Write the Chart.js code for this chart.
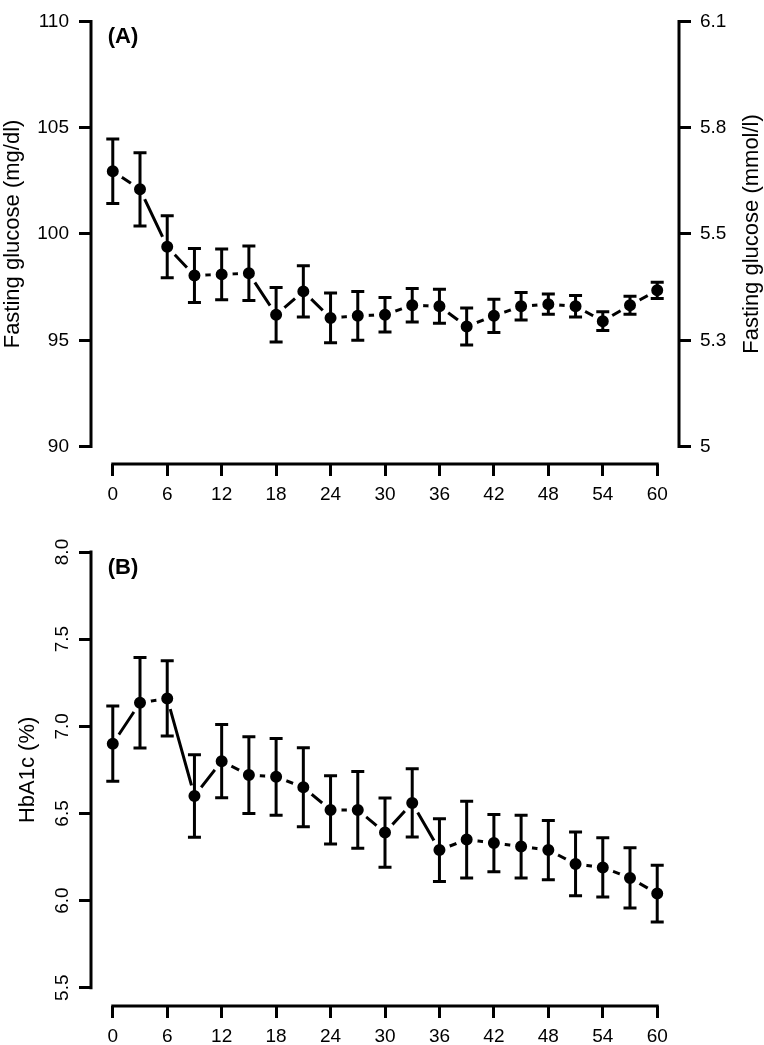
<!DOCTYPE html>
<html>
<head>
<meta charset="utf-8">
<script src="https://cdn.jsdelivr.net/npm/chart.js@4.4.1/dist/chart.umd.min.js"></script>
<style>
  html, body { margin: 0; padding: 0; background: #fff; }
  #wrap { position: relative; width: 764px; height: 1045px; }
  canvas { position: absolute; left: 0; }
  #glucoseChart { top: 0; }
  #hba1cChart { top: 500px; }
</style>
</head>
<body>
<div id="wrap">
  <canvas id="glucoseChart" width="764" height="500"></canvas>
  <canvas id="hba1cChart" width="764" height="545"></canvas>
</div>
<script>
const months = [0, 3, 6, 9, 12, 15, 18, 21, 24, 27, 30, 33, 36, 39, 42, 45, 48, 51, 54, 57, 60];
const monthTicks = [0, 6, 12, 18, 24, 30, 36, 42, 48, 54, 60];

// (A) fasting glucose, mg/dl, mean and error
const glucoseMean = [102.95, 102.1, 99.4, 98.05, 98.1, 98.15, 96.2, 97.3, 96.05, 96.15, 96.2,
  96.65, 96.6, 95.65, 96.15, 96.6, 96.7, 96.6, 95.9, 96.65, 97.35];
const glucoseErr = [1.52, 1.72, 1.46, 1.27, 1.19, 1.28, 1.28, 1.21, 1.17, 1.15, 0.81,
  0.79, 0.8, 0.87, 0.78, 0.65, 0.48, 0.51, 0.44, 0.42, 0.38];
const glucoseTicks = [90, 95, 100, 105, 110];
const glucoseMmolLabels = ["5", "5.3", "5.5", "5.8", "6.1"];

// (B) HbA1c, %, mean and error
const hba1cMean = [6.90, 7.135, 7.16, 6.60, 6.80, 6.72, 6.71, 6.65, 6.52, 6.52, 6.39,
  6.56, 6.29, 6.35, 6.33, 6.31, 6.29, 6.21, 6.19, 6.13, 6.04];
const hba1cErr = [0.216, 0.26, 0.216, 0.237, 0.21, 0.22, 0.22, 0.227, 0.196, 0.22, 0.199,
  0.196, 0.18, 0.22, 0.164, 0.18, 0.17, 0.183, 0.17, 0.173, 0.163];
const hba1cTicks = [5.5, 6.0, 6.5, 7.0, 7.5, 8.0];

const FONT = "'Liberation Sans', Arial, Helvetica, sans-serif";
Chart.defaults.font.family = FONT;
Chart.defaults.color = "#000";

const toPoints = (means) => months.map((m, i) => ({ x: m, y: means[i] }));

const tickGrid = {
  display: true,
  drawOnChartArea: false,
  drawTicks: true,
  tickLength: 12,
  tickWidth: 3,
  tickColor: "#000",
};

const fixedTicks = (values) => (scale) => {
  scale.ticks = values.map((v) => ({ value: v }));
};

// error bars, R style axis lines, titles and panel letter
const makeRStyle = (cfg) => ({
  id: "rStyle",
  afterDatasetsDraw(chart) {
    const ctx = chart.ctx;
    const x = chart.scales.x;
    const y = chart.scales.y;
    ctx.save();
    ctx.strokeStyle = "#000";
    ctx.lineWidth = 3;
    cfg.means.forEach((v, i) => {
      const px = x.getPixelForValue(months[i]);
      const top = y.getPixelForValue(v + cfg.err[i]);
      const bot = y.getPixelForValue(v - cfg.err[i]);
      ctx.beginPath();
      ctx.moveTo(px, top);
      ctx.lineTo(px, bot);
      ctx.moveTo(px - 6.5, top);
      ctx.lineTo(px + 6.5, top);
      ctx.moveTo(px - 6.5, bot);
      ctx.lineTo(px + 6.5, bot);
      ctx.stroke();
    });
    ctx.restore();
  },
  afterDraw(chart) {
    const ctx = chart.ctx;
    const area = chart.chartArea;
    const x = chart.scales.x;
    const y = chart.scales.y;
    const yTop = y.getPixelForValue(cfg.yTicks[cfg.yTicks.length - 1]);
    const yBot = y.getPixelForValue(cfg.yTicks[0]);
    const midY = (yTop + yBot) / 2;
    ctx.save();
    ctx.strokeStyle = "#000";
    ctx.lineWidth = 3;
    ctx.lineCap = "square";
    ctx.beginPath();
    ctx.moveTo(x.getPixelForValue(monthTicks[0]), area.bottom);
    ctx.lineTo(x.getPixelForValue(monthTicks[monthTicks.length - 1]), area.bottom);
    ctx.moveTo(area.left, yTop);
    ctx.lineTo(area.left, yBot);
    if (chart.scales.y2) {
      ctx.moveTo(area.right, yTop);
      ctx.lineTo(area.right, yBot);
    }
    ctx.stroke();

    ctx.fillStyle = "#000";
    ctx.textAlign = "center";
    ctx.textBaseline = "middle";
    ctx.font = "22px " + FONT;
    ctx.save();
    ctx.translate(cfg.leftTitleX, midY);
    ctx.rotate(-Math.PI / 2);
    ctx.fillText(cfg.leftTitle, 0, 0);
    ctx.restore();
    if (cfg.rightTitle) {
      ctx.save();
      ctx.translate(cfg.rightTitleX, midY);
      ctx.rotate(-Math.PI / 2);
      ctx.fillText(cfg.rightTitle, 0, 0);
      ctx.restore();
    }
    ctx.font = "bold 22px " + FONT;
    ctx.fillText(cfg.panel, area.left + 32, yTop + 16);
    ctx.restore();
  },
});

const lineDataset = (means) => ({
  data: toPoints(means),
  borderColor: "#000",
  borderWidth: 3,
  tension: 0,
  pointRadius: 8.5,
  pointBorderWidth: 5,
  pointBackgroundColor: "#000",
  pointBorderColor: "#fff",
  clip: false,
});

const xScale = (height) => ({
  type: "linear",
  min: -2.4,
  max: 62.4,
  afterBuildTicks: fixedTicks(monthTicks),
  ticks: { font: { size: 19 }, padding: 7, maxRotation: 0, autoSkip: false },
  grid: tickGrid,
  border: { display: false },
  afterFit: (s) => { s.height = height; },
});

// (A)
new Chart(document.getElementById("glucoseChart"), {
  type: "line",
  data: { datasets: [lineDataset(glucoseMean)] },
  options: {
    responsive: false,
    animation: false,
    events: [],
    layout: { padding: { top: 12, left: 0, right: 0, bottom: 0 } },
    plugins: { legend: { display: false }, tooltip: { enabled: false } },
    scales: {
      x: xScale(36),
      y: {
        type: "linear",
        position: "left",
        min: 89.18,
        max: 110,
        afterBuildTicks: fixedTicks(glucoseTicks),
        ticks: { font: { size: 19 }, padding: 10 },
        grid: tickGrid,
        border: { display: false },
        afterFit: (s) => { s.width = 91; },
      },
      y2: {
        type: "linear",
        position: "right",
        min: 89.18,
        max: 110,
        afterBuildTicks: fixedTicks(glucoseTicks),
        ticks: {
          font: { size: 19 },
          padding: 9,
          callback: (v) => glucoseMmolLabels[glucoseTicks.indexOf(v)],
        },
        grid: tickGrid,
        border: { display: false },
        afterFit: (s) => { s.width = 85; },
      },
    },
  },
  plugins: [makeRStyle({
    means: glucoseMean,
    err: glucoseErr,
    yTicks: glucoseTicks,
    panel: "(A)",
    leftTitle: "Fasting glucose (mg/dl)",
    leftTitleX: 13,
    rightTitle: "Fasting glucose (mmol/l)",
    rightTitleX: 752,
  })],
});

// (B)
new Chart(document.getElementById("hba1cChart"), {
  type: "line",
  data: { datasets: [lineDataset(hba1cMean)] },
  options: {
    responsive: false,
    animation: false,
    events: [],
    layout: { padding: { top: 52, left: 0, right: 85, bottom: 0 } },
    plugins: { legend: { display: false }, tooltip: { enabled: false } },
    scales: {
      x: xScale(39),
      y: {
        type: "linear",
        position: "left",
        min: 5.395,
        max: 8.0,
        afterBuildTicks: fixedTicks(hba1cTicks),
        ticks: {
          font: { size: 19 },
          padding: 3,
          minRotation: 90,
          maxRotation: 90,
          crossAlign: "center",
          callback: (v) => v.toFixed(1),
        },
        grid: tickGrid,
        border: { display: false },
        afterFit: (s) => { s.width = 91; },
      },
    },
  },
  plugins: [makeRStyle({
    means: hba1cMean,
    err: hba1cErr,
    yTicks: hba1cTicks,
    panel: "(B)",
    leftTitle: "HbA1c (%)",
    leftTitleX: 28,
  })],
});
</script>
</body>
</html>
